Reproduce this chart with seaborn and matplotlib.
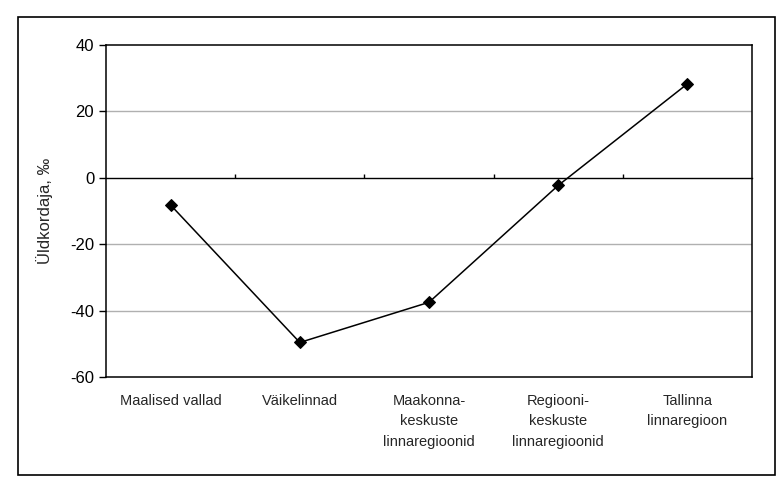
import matplotlib.pyplot as plt
import matplotlib.patches as mpatches
import seaborn as sns
import pandas as pd

categories = ['Maalised vallad', 'Väikelinnad', 'Maakonna-\nkeskuste\nlinnaregioonid',
              'Regiooni-\nkeskuste\nlinnaregioonid', 'Tallinna\nlinnaregioon']
values = [-8.2, -49.6, -37.5, -2.3, 28.3]
y_ticks = [-60, -40, -20, 0, 20, 40]

sns.set_style('white')
plt.rcParams['font.family'] = ['Liberation Sans', 'DejaVu Sans']
plt.rcParams['axes.unicode_minus'] = False

df = pd.DataFrame({'pos': range(len(categories)), 'val': values})

fig = plt.figure(figsize=(7.8, 4.9), dpi=100)
ax = fig.add_axes([106 / 780, 1 - 377 / 490, (752 - 106) / 780, (377 - 45) / 490])

sns.lineplot(x='pos', y='val', data=df, ax=ax, color='black', linewidth=1.1,
             marker='D', markersize=6, markeredgecolor='black')

ax.set_xlim(-0.5, len(categories) - 0.5)
ax.set_ylim(-60, 40)
ax.set_yticks(y_ticks)
ax.set_xticks(range(len(categories)))
ax.set_xticklabels(categories, fontsize=10.5, linespacing=1.6)
ax.tick_params(axis='x', length=0, pad=12)
ax.tick_params(axis='y', length=5, width=1, direction='out', labelsize=12, colors='black', left=True)
for v in [-40, -20, 20]:
    ax.axhline(v, color='#b0b0b0', linewidth=1, zorder=0)
for s in ax.spines.values():
    s.set_color('black')
    s.set_linewidth(1.1)

# zero line with category boundary ticks
sec = ax.secondary_xaxis(0.6)
sec.set_xticks([0.5, 1.5, 2.5, 3.5])
sec.set_xticklabels([''] * 4)
sec.tick_params(direction='out', length=3, width=1, colors='black')
for s in sec.spines.values():
    s.set_linewidth(1)
    s.set_color('black')

ax.set_xlabel('')
ax.set_ylabel('Üldkordaja, ‰', fontsize=12, labelpad=12)

fig.patches.append(mpatches.Rectangle((18 / 780, 1 - 475 / 490), (775 - 18) / 780, (475 - 17) / 490,
                                      transform=fig.transFigure, fill=False,
                                      edgecolor='black', linewidth=1.2))

fig.savefig('out.png', dpi=100)
